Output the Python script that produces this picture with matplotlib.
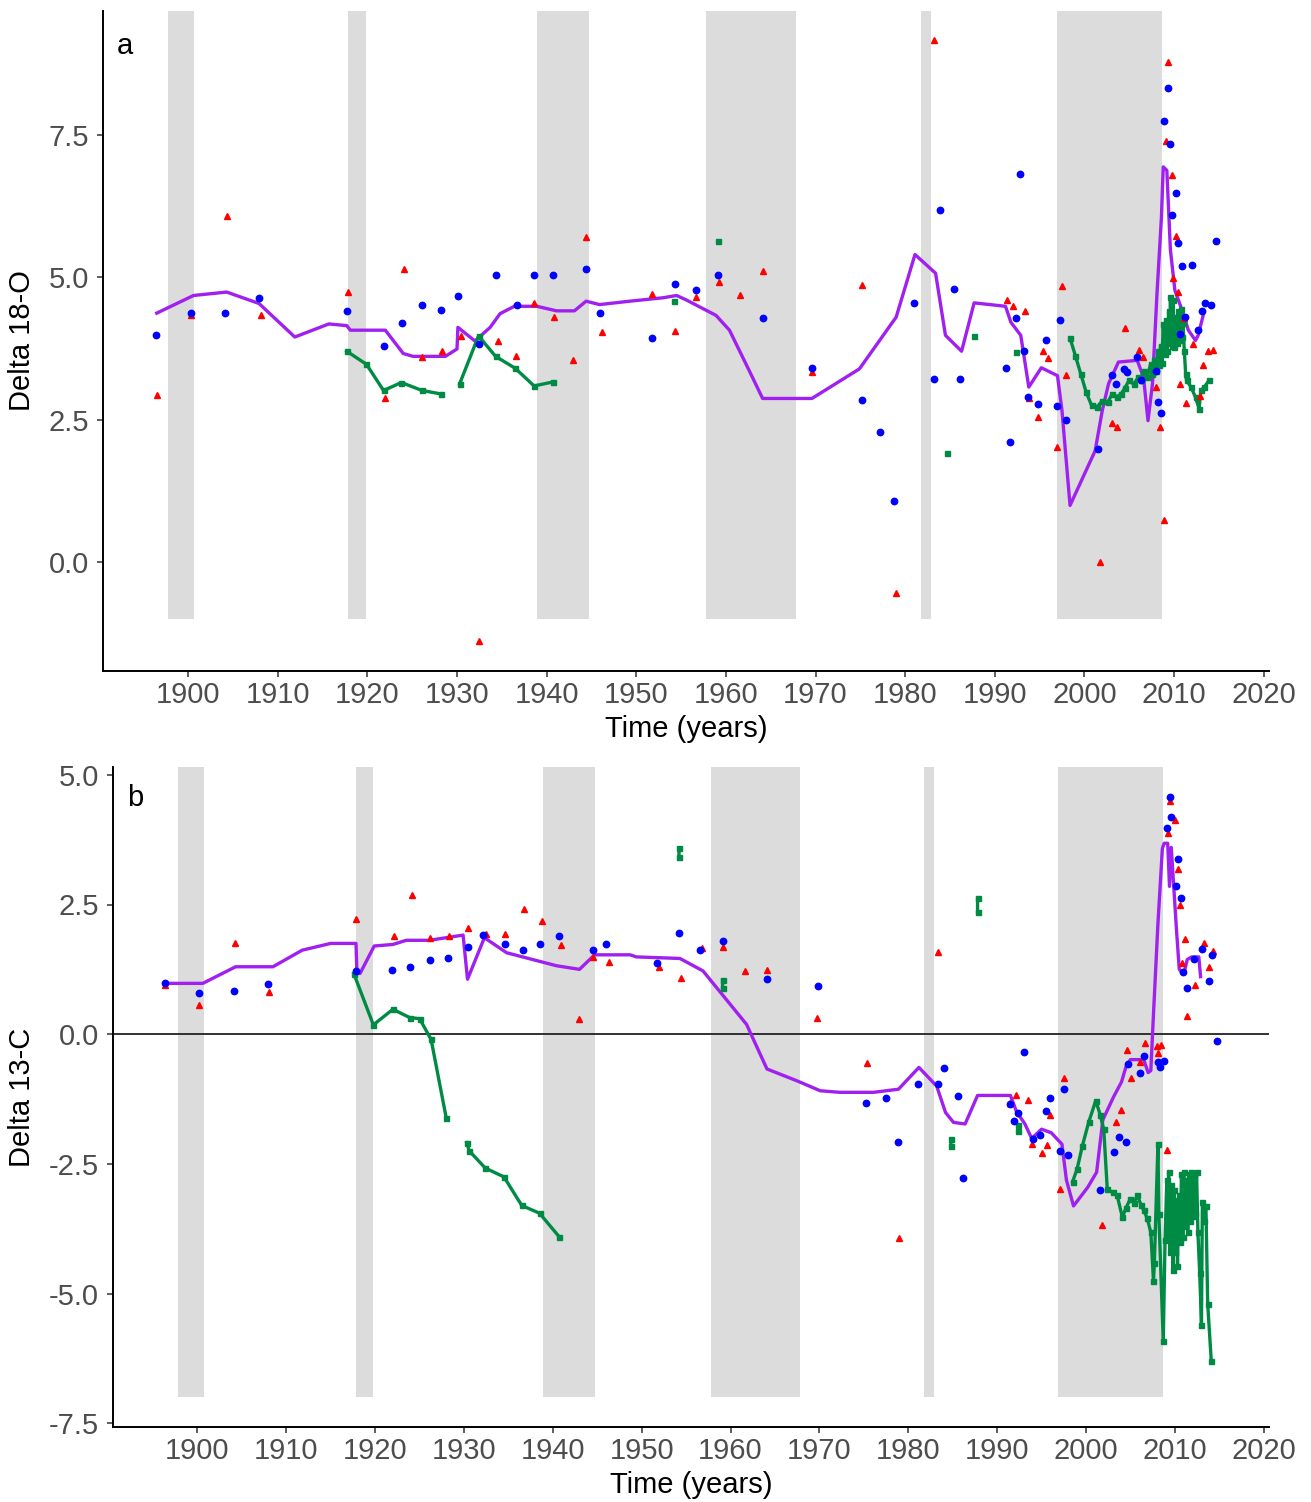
import numpy as np
import matplotlib.pyplot as plt

plt.rcParams['font.family'] = ['Liberation Sans', 'DejaVu Sans']

nan = np.nan

# shaded periods (start, end)
bands = [(1897.8, 1900.7), (1917.8, 1919.8), (1938.9, 1944.7),
         (1957.8, 1967.8), (1981.8, 1982.85), (1996.9, 2008.7)]

# ---------------- panel a : Delta 18-O ----------------
a_red_year = [1896.5, 1900.3, 1904.3, 1908.1, 1917.8, 1922.0, 1924.1, 1926.1, 1928.3, 1930.4,
              1932.4, 1934.6, 1936.6, 1938.6, 1940.8, 1942.9, 1944.4, 1946.2, 1951.8, 1954.3,
              1956.7, 1959.2, 1961.6, 1964.1, 1969.6, 1975.2, 1979.0, 1983.2, 1991.4, 1992.0,
              1993.4, 1993.8, 1994.8, 1995.4, 1995.9, 1996.9, 1997.5, 1997.9, 2001.7, 2003.1,
              2003.6, 2004.5, 2006.1, 2006.5, 2008.0, 2008.4, 2008.9, 2009.1, 2009.3, 2009.8,
              2009.9, 2010.2, 2010.5, 2010.7, 2011.1, 2011.3, 2012.1, 2012.9, 2013.2, 2013.8,
              2014.3]
a_red_val = [2.93, 4.33, 6.07, 4.33, 4.74, 2.87, 5.14, 3.60, 3.71, 3.96,
             -1.39, 3.88, 3.61, 4.55, 4.30, 3.54, 5.71, 4.03, 4.71, 4.06,
             4.65, 4.91, 4.68, 5.11, 3.33, 4.86, -0.55, 9.17, 4.60, 4.49,
             4.40, 2.88, 2.55, 3.70, 3.58, 2.02, 4.84, 3.29, -0.01, 2.43,
             2.36, 4.11, 3.73, 3.60, 3.08, 2.36, 0.73, 7.40, 8.79, 6.80,
             4.99, 5.72, 4.74, 3.13, 4.29, 2.79, 3.82, 2.92, 3.46, 3.70,
             3.73]

a_blue_year = [1896.4, 1900.3, 1904.1, 1907.9, 1917.7, 1921.9, 1923.9, 1926.1, 1928.2, 1930.1,
               1932.4, 1934.4, 1936.7, 1938.6, 1940.7, 1944.4, 1946.0, 1951.8, 1954.3, 1956.7,
               1959.1, 1964.1, 1969.6, 1975.2, 1977.2, 1978.8, 1981.0, 1983.2, 1983.9, 1985.4,
               1986.1, 1991.3, 1991.7, 1992.4, 1992.8, 1993.3, 1993.7, 1994.8, 1995.7, 1996.9,
               1997.3, 1997.9, 2001.5, 2003.1, 2003.5, 2004.4, 2004.8, 2005.9, 2006.3, 2008.0,
               2008.2, 2008.6, 2008.9, 2009.3, 2009.6, 2009.8, 2010.2, 2010.4, 2010.7, 2010.9,
               2011.2, 2012.0, 2012.7, 2013.1, 2013.5, 2014.1, 2014.7]
a_blue_val = [3.98, 4.38, 4.37, 4.64, 4.40, 3.79, 4.20, 4.52, 4.43, 4.67,
              3.83, 5.04, 4.52, 5.04, 5.04, 5.15, 4.37, 3.94, 4.88, 4.77,
              5.04, 4.28, 3.41, 2.85, 2.28, 1.07, 4.55, 3.22, 6.18, 4.79,
              3.22, 3.40, 2.10, 4.28, 6.82, 3.71, 2.89, 2.77, 3.89, 2.73,
              4.25, 2.49, 1.98, 3.28, 3.13, 3.38, 3.33, 3.60, 3.19, 3.36,
              2.80, 2.62, 7.75, 8.33, 7.35, 6.09, 6.48, 5.60, 4.01, 5.19,
              4.30, 5.22, 4.07, 4.40, 4.55, 4.52, 5.64]

a_green_year = [1917.7, 1919.9, 1921.8, 1923.8, 1926.1, 1928.2, nan,
                1930.3, 1932.4, 1934.3, 1936.5, 1938.6, 1940.7, nan,
                1954.2, nan, 1959.1, nan, 1984.7, nan, 1987.7, nan, 1992.4, nan,
                1998.4, 1999.0, 1999.6, 2000.2, 2000.8, 2001.4, 2002.0, 2002.6, 2003.1, 2003.6,
                2004.1, 2004.5, 2005.0, 2005.5, 2006.0, 2006.3, 2006.6, 2007.0, 2007.4, 2007.6,
                2007.8, 2008.0, 2008.2, 2008.35, 2008.5, 2008.65, 2008.8, 2008.95, 2009.1, 2009.25,
                2009.4, 2009.5, 2009.6, 2009.75, 2009.9, 2010.0, 2010.15, 2010.3, 2010.45, 2010.6,
                2010.75, 2010.9, 2011.0, 2011.15, 2011.3, 2011.4, 2011.9, 2012.4, 2012.8, 2013.0,
                2013.4, 2013.9]
a_green_val = [3.70, 3.47, 3.01, 3.15, 3.01, 2.95, nan,
               3.13, 3.97, 3.61, 3.40, 3.09, 3.16, nan,
               4.58, nan, 5.64, nan, 1.91, nan, 3.96, nan, 3.69, nan,
               3.93, 3.62, 3.30, 2.98, 2.75, 2.72, 2.83, 2.80, 2.95, 2.90,
               2.95, 3.05, 3.19, 3.12, 3.24, 3.20, 3.36, 3.24, 3.48, 3.30,
               3.55, 3.35, 3.71, 3.45, 3.80, 3.50, 4.18, 3.65, 4.25, 3.70,
               4.40, 3.85, 4.65, 3.80, 4.60, 3.77, 4.30, 3.85, 4.40, 3.90,
               4.45, 3.95, 4.20, 3.71, 3.30, 3.19, 3.07, 2.89, 2.69, 3.01,
               3.07, 3.19]

a_purple_year = [1896.5, 1900.6, 1904.3, 1907.9, 1911.9, 1915.7, 1917.7, 1918.1, 1922.0, 1924.0,
                 1925.1, 1928.7, 1930.0, 1930.1, 1932.0, 1933.7, 1934.8, 1936.4, 1938.9, 1941.1,
                 1943.1, 1944.4, 1945.9, 1949.3, 1953.0, 1954.5, 1955.6, 1958.9, 1960.4, 1962.6,
                 1964.1, 1969.6, 1974.9, 1979.0, 1981.1, 1983.4, 1984.5, 1986.3, 1987.7, 1991.2,
                 1991.8, 1992.9, 1993.8, 1995.2, 1997.0, 1997.5, 1998.4, 2001.2, 2002.0, 2002.7,
                 2003.8, 2005.9, 2006.6, 2007.1, 2007.6, 2008.1, 2008.6, 2008.8, 2009.2, 2009.4,
                 2009.6, 2010.1, 2010.9, 2011.6, 2012.4, 2012.7, 2013.3]
a_purple_val = [4.37, 4.68, 4.74, 4.54, 3.95, 4.18, 4.15, 4.07, 4.07, 3.66,
                3.61, 3.61, 3.74, 4.12, 3.88, 4.12, 4.36, 4.49, 4.49, 4.41,
                4.41, 4.58, 4.52, 4.58, 4.64, 4.68, 4.60, 4.33, 4.07, 3.36,
                2.87, 2.87, 3.39, 4.30, 5.40, 5.07, 3.98, 3.70, 4.55, 4.49,
                4.21, 3.98, 3.07, 3.41, 3.27, 2.66, 0.99, 1.95, 2.66, 3.13,
                3.51, 3.54, 3.24, 2.48, 3.13, 4.71, 6.06, 6.94, 6.88, 6.18,
                5.48, 4.77, 4.42, 4.07, 3.89, 3.98, 4.36]

# ---------------- panel b : Delta 13-C ----------------
b_red_year = [1896.3, 1900.2, 1904.2, 1908.1, 1917.9, 1922.1, 1924.1, 1926.2, 1928.3, 1930.4,
              1932.5, 1934.6, 1936.7, 1938.8, 1940.9, 1942.9, 1944.5, 1946.3, 1951.9, 1954.4,
              1956.8, 1959.2, 1961.6, 1964.1, 1969.7, 1975.4, 1979.0, 1983.4, 1991.5, 1992.1,
              1993.5, 1993.9, 1995.0, 1995.6, 1995.9, 1997.1, 1997.5, 2001.8, 2003.4, 2003.9,
              2004.6, 2005.1, 2006.1, 2006.7, 2008.0, 2008.1, 2008.5, 2009.1, 2009.2, 2009.5,
              2010.0, 2010.4, 2010.6, 2010.8, 2011.2, 2011.4, 2012.3, 2013.3, 2013.8, 2014.3]
b_red_val = [0.95, 0.56, 1.76, 0.82, 2.23, 1.89, 2.68, 1.85, 1.89, 2.05,
             1.94, 1.94, 2.41, 2.18, 1.71, 0.29, 1.49, 1.40, 1.30, 1.09,
             1.66, 1.69, 1.22, 1.23, 0.31, -0.55, -3.93, 1.59, -1.32, -1.17,
             -1.27, -2.12, -2.29, -2.14, -1.55, -2.99, -0.85, -3.68, -1.69, -1.46,
             -0.30, -0.84, -0.53, -0.17, -0.23, -0.37, -0.21, -2.24, 3.88, 4.50,
             4.13, 3.18, 2.50, 1.38, 1.83, 0.35, 0.95, 1.75, 1.30, 1.61]

b_blue_year = [1896.3, 1900.2, 1904.1, 1907.9, 1917.9, 1921.9, 1923.9, 1926.2, 1928.2, 1930.4,
               1932.1, 1934.6, 1936.6, 1938.6, 1940.7, 1944.5, 1946.0, 1951.7, 1954.2, 1956.6,
               1959.2, 1964.1, 1969.8, 1975.2, 1977.5, 1978.8, 1981.1, 1983.3, 1984.0, 1985.6,
               1986.2, 1991.4, 1991.9, 1992.3, 1993.0, 1994.0, 1994.8, 1995.5, 1995.9, 1997.1,
               1997.5, 1998.0, 2001.6, 2003.2, 2003.7, 2004.5, 2004.7, 2006.1, 2006.5, 2008.1,
               2008.3, 2008.8, 2009.1, 2009.5, 2009.6, 2010.1, 2010.4, 2010.7, 2010.9, 2011.4,
               2012.2, 2013.1, 2013.8, 2014.2, 2014.7]
b_blue_val = [0.98, 0.80, 0.83, 0.97, 1.22, 1.23, 1.30, 1.43, 1.46, 1.69,
              1.91, 1.73, 1.62, 1.73, 1.89, 1.62, 1.73, 1.37, 1.96, 1.62,
              1.80, 1.07, 0.93, -1.32, -1.22, -2.08, -0.95, -0.95, -0.65, -1.19,
              -2.77, -1.35, -1.68, -1.51, -0.35, -2.02, -1.94, -1.48, -1.22, -2.25,
              -1.05, -2.33, -3.00, -2.27, -1.98, -2.08, -0.58, -0.75, -0.42, -0.54,
              -0.64, -0.51, 3.98, 4.57, 4.19, 2.86, 3.38, 2.63, 1.19, 0.90,
              1.45, 1.64, 1.03, 1.52, -0.13]

b_green_year = [1917.6, 1919.8, 1922.0, 1923.9, 1925.0, 1926.3, 1928.0, nan,
                1930.3, 1930.6, 1932.4, 1934.5, 1936.5, 1938.5, 1940.7, nan,
                1954.2, 1954.2, nan, 1959.1, 1959.1, nan, 1984.8, 1984.8, nan,
                1987.8, 1987.8, nan, 1992.4, 1992.4, nan,
                1998.5, 1999.0, 1999.6, 2000.3, 2001.1, 2001.6, 2002.0, 2002.4, 2003.0, 2003.5,
                2004.1, 2004.5, 2005.0, 2005.4, 2005.8, 2006.2, 2006.5, 2006.9, 2007.3, 2007.6,
                2007.7, 2008.1, 2008.2, 2008.7, 2008.9, 2009.1, 2009.2, 2009.3, 2009.45, 2009.6,
                2009.8, 2009.9, 2010.05, 2010.2, 2010.3, 2010.45, 2010.6, 2010.75, 2010.9, 2011.0,
                2011.15, 2011.3, 2011.45, 2011.6, 2011.75, 2011.85, 2012.0, 2012.15, 2012.3, 2012.45,
                2012.6, 2012.8, 2013.0, 2013.1, 2013.3, 2013.5, 2013.7, 2014.1]
b_green_val = [1.17, 0.18, 0.48, 0.32, 0.30, -0.10, -1.61, nan,
               -2.09, -2.25, -2.58, -2.75, -3.30, -3.45, -3.90, nan,
               3.42, 3.58, nan, 0.90, 1.05, nan, -2.02, -2.15, nan,
               2.35, 2.62, nan, -1.75, -1.86, nan,
               -2.84, -2.60, -2.15, -1.70, -1.28, -1.55, -1.83, -2.99, -3.05, -3.10,
               -3.53, -3.35, -3.17, -3.25, -3.10, -3.30, -3.39, -3.55, -3.82, -4.76,
               -4.40, -2.12, -3.46, -5.92, -3.97, -2.81, -3.90, -2.66, -4.20, -2.90,
               -4.55, -3.00, -4.20, -3.20, -4.47, -3.10, -4.00, -2.70, -3.90, -2.66,
               -3.70, -2.80, -3.82, -2.70, -3.60, -2.66, -3.50, -2.70, -3.45, -2.66,
               -3.82, -4.60, -5.60, -3.24, -3.60, -3.31, -5.20, -6.29]

b_purple_year = [1896.3, 1900.6, 1904.3, 1908.5, 1911.8, 1915.0, 1917.85, 1917.95, 1918.3, 1919.9,
                 1922.0, 1923.5, 1926.1, 1929.9, 1930.4, 1932.3, 1934.8, 1940.4, 1943.0, 1944.7,
                 1948.7, 1949.4, 1954.3, 1956.9, 1961.8, 1964.1, 1967.5, 1970.1, 1972.3, 1976.1,
                 1978.9, 1981.2, 1983.2, 1984.2, 1985.1, 1986.4, 1987.8, 1991.5, 1992.2, 1993.1,
                 1993.9, 1995.0, 1996.1, 1997.3, 1997.8, 1998.6, 2000.2, 2001.2, 2001.9, 2003.1,
                 2004.0, 2004.5, 2005.0, 2006.5, 2007.0, 2007.3, 2007.6, 2008.1, 2008.6, 2008.8,
                 2009.2, 2009.4, 2009.6, 2010.2, 2010.5, 2011.0, 2011.4, 2011.9, 2012.7, 2012.9]
b_purple_val = [0.98, 0.98, 1.30, 1.30, 1.62, 1.75, 1.75, 1.19, 1.17, 1.70,
                1.73, 1.81, 1.81, 1.91, 1.06, 1.86, 1.57, 1.32, 1.25, 1.53,
                1.53, 1.49, 1.46, 1.22, 0.19, -0.67, -0.90, -1.09, -1.12, -1.12,
                -1.06, -0.64, -1.00, -1.51, -1.70, -1.73, -1.18, -1.18, -1.50, -1.72,
                -2.01, -1.83, -1.90, -2.12, -2.81, -3.31, -2.95, -2.66, -1.65, -1.21,
                -0.92, -0.63, -0.49, -0.49, -0.74, -0.70, 0.39, 2.13, 3.58, 3.68,
                3.68, 2.85, 3.60, 1.98, 1.25, 1.15, 1.44, 1.49, 1.49, 1.11]

RED = '#FF0000'
BLUE = '#0000FF'
GREEN = '#008B45'
PURPLE = '#A020F0'
BAND = '#DCDCDC'
TICKCOL = '#4D4D4D'
FS = 21

W, H = 1311, 1502
fig = plt.figure(figsize=(W / 100, H / 100), dpi=100)
ax_a = fig.add_axes([103 / W, 1 - 671 / H, 1166 / W, 660 / H])
ax_b = fig.add_axes([113 / W, 1 - 1427 / H, 1156 / W, 660 / H])


def panel(ax, red, blue, green, purple, band_low, ylim, yticks, letter):
    for x0, x1 in bands:
        ax.axvspan(x0, x1, ymin=(band_low - ylim[0]) / (ylim[1] - ylim[0]), ymax=1,
                   color=BAND, lw=0, zorder=0)
    ax.plot(purple[0], purple[1], color=PURPLE, lw=2.4, zorder=3)
    ax.plot(green[0], green[1], color=GREEN, lw=2.4, marker='s', ms=3.6, zorder=4)
    ax.plot(red[0], red[1], ls='none', marker='^', ms=4.6, color=RED, zorder=5)
    ax.plot(blue[0], blue[1], ls='none', marker='o', ms=4.6, color=BLUE, zorder=6)
    ax.set_xlim(1890.5, 2020.6)
    ax.set_ylim(*ylim)
    ax.set_xticks(range(1900, 2021, 10))
    ax.set_yticks(yticks)
    ax.set_yticklabels(['%.1f' % v for v in yticks])
    for s in ('top', 'right'):
        ax.spines[s].set_visible(False)
    for s in ('left', 'bottom'):
        ax.spines[s].set_linewidth(1.4)
    ax.tick_params(axis='both', length=4, width=1.1, color='#333333',
                   labelsize=FS, labelcolor=TICKCOL)
    ax.tick_params(axis='x', pad=3)
    ax.tick_params(axis='y', pad=6)
    ax.text(0.012, 0.935 if letter == 'a' else 0.941, letter, transform=ax.transAxes,
            fontsize=FS, ha='left', va='baseline', color='black')


panel(ax_a, (a_red_year, a_red_val), (a_blue_year, a_blue_val),
      (a_green_year, a_green_val), (a_purple_year, a_purple_val),
      -1.0, (-1.92, 9.68), [0.0, 2.5, 5.0, 7.5], 'a')
panel(ax_b, (b_red_year, b_red_val), (b_blue_year, b_blue_val),
      (b_green_year, b_green_val), (b_purple_year, b_purple_val),
      -7.0, (-7.57, 5.15), [-7.5, -5.0, -2.5, 0.0, 2.5, 5.0], 'b')
ax_b.axhline(0, color='#222222', lw=1.3, zorder=1)

fig.text(686 / W, 1 - 729 / H, 'Time (years)', fontsize=FS, ha='center', va='center')
fig.text(691 / W, 1 - 1485 / H, 'Time (years)', fontsize=FS, ha='center', va='center')
fig.text(22 / W, 1 - 341 / H, 'Delta 18-O', fontsize=FS, rotation=90, ha='center', va='center')
fig.text(22 / W, 1 - 1097 / H, 'Delta 13-C', fontsize=FS, rotation=90, ha='center', va='center')

fig.savefig('out.png', dpi=100, facecolor='white')
